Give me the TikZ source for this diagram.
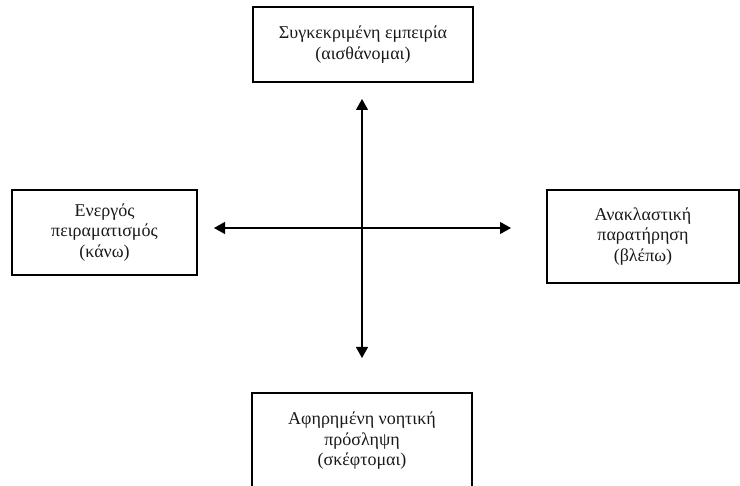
\documentclass[tikz,border=0pt]{standalone}
\usepackage{fontspec}
\setmainfont{Liberation Serif}
\usetikzlibrary{arrows.meta}
\begin{document}
\begin{tikzpicture}[x=1pt,y=-1pt,
  stage/.style={draw=black,line width=1.6pt,align=center,inner sep=0pt,
    text=black!90,font=\fontsize{18}{20.5}\selectfont},
  arr/.style={line width=1.2pt,{Triangle[length=11pt,width=12pt]}-{Triangle[length=11pt,width=12pt]}}]
  \useasboundingbox (0,0) rectangle (740,486);
  % the four stages of the cycle
  \node[stage,minimum width=220pt,minimum height=75pt] (concrete) at (363,44.5)
    {Συγκεκριμένη εμπειρία\\(αισθάνομαι)};
  \node[stage,minimum width=185pt,minimum height=85pt] (active) at (104.5,232.5)
    {Ενεργός\\πειραματισμός\\(κάνω)};
  \node[stage,minimum width=192pt,minimum height=93pt] (reflective) at (643,236.5)
    {Ανακλαστική\\παρατήρηση\\(βλέπω)};
  \node[stage,minimum width=220pt,minimum height=96pt] (abstract) at (362,441)
    {Αφηρημένη νοητική\\πρόσληψη\\(σκέφτομαι)};
  % the two axes
  \coordinate (up) at (362,99);
  \coordinate (down) at (362,358);
  \coordinate (left) at (214,228);
  \coordinate (right) at (511,228);
  \draw[arr] (down) -- (up);
  \draw[arr] (left) -- (right);
\end{tikzpicture}
\end{document}
